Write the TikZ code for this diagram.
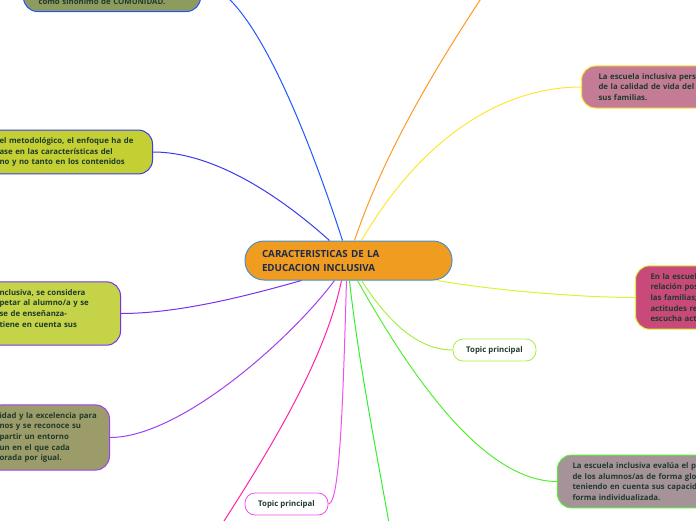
\documentclass[tikz,border=0pt]{standalone}
\usepackage{fontspec}
\setmainfont{Open Sans}
\usetikzlibrary{calc}

\definecolor{txtgreen}{HTML}{1F3B2B}
\definecolor{centrefill}{HTML}{EF9C20}
\definecolor{centreborder}{HTML}{4A8FC8}
\definecolor{centretext}{HTML}{1E2B4A}
\definecolor{olive}{HTML}{8E9B5F}
\definecolor{lightolive}{HTML}{9C9C6B}
\definecolor{lime}{HTML}{C3CF33}
\definecolor{lightlime}{HTML}{C4D348}
\definecolor{mauve}{HTML}{C47B96}
\definecolor{crimson}{HTML}{C94A7A}
\definecolor{greymauve}{HTML}{A6939A}
\definecolor{cblue}{HTML}{2255FF}
\definecolor{cdarkblue}{HTML}{3A3AEE}
\definecolor{cpurple}{HTML}{7B2FF0}
\definecolor{cviolet}{HTML}{A040F0}
\definecolor{cpink}{HTML}{FF22AA}
\definecolor{cmagenta}{HTML}{F050F0}
\definecolor{cgreen}{HTML}{33EE33}
\definecolor{cgreentwo}{HTML}{55EE33}
\definecolor{clightgreen}{HTML}{AAEE44}
\definecolor{clime}{HTML}{D8F533}
\definecolor{cyellow}{HTML}{FFE633}
\definecolor{corange}{HTML}{FF9922}

\begin{document}
\begin{tikzpicture} [
    x=1pt, y=-1pt,
    topic/.style={rectangle, draw, line width=1pt, rounded corners=14pt, align=left, inner xsep=15pt, inner ysep=7.3pt, text=txtgreen, font=\fontsize{7.8}{10.7}\selectfont\bfseries},
    sub_topic/.style={rectangle, draw, fill=white, line width=0.8pt, rounded corners=10pt, minimum width=83pt, minimum height=22pt, text=txtgreen, font=\fontsize{7.8}{10.7}\selectfont\bfseries},
    line/.style={draw, line width=1pt}
]
    \path[use as bounding box, clip] (0,0) rectangle (696,520);

    % Nodes
    \node[topic, fill=centrefill, draw=centreborder, rounded corners=19pt, minimum width=207pt, minimum height=39pt, text width=173pt, inner xsep=17pt, text=centretext, font=\fontsize{9.8}{14}\selectfont\bfseries] (centre) at (348.5,260.5) {CARACTERISTICAS DE LA\\EDUCACION INCLUSIVA};

    \node[topic, fill=olive, draw=cblue, text width=147pt, text height=40pt, text depth=0pt, anchor=south west] (comunidad) at (23,12) {como sinónimo de COMUNIDAD.};
    \node[topic, fill=lime, draw=cdarkblue, text width=140pt, inner xsep=13pt, anchor=east] (metodo) at (153,152) {el metodológico, el enfoque ha de\\ase en las características del\\no y no tanto en los contenidos};
    \node[topic, fill=lightlime, draw=cpurple, text width=108pt, inner xsep=13pt, anchor=east] (respeto) at (121,313.5) {nclusiva, se considera\\petar al alumno/a y se\\se de enseñanza-\\tiene en cuenta sus\\\mbox{}};
    \node[topic, fill=lightolive, draw=cviolet, text width=98pt, inner xsep=12pt, anchor=east] (equidad) at (110,437.5) {idad y la excelencia para\\nos y se reconoce su\\partir un entorno\\un en el que cada\\orada por igual.};

    \node[topic, fill=mauve, draw=cyellow, text width=140pt, inner xsep=17pt, anchor=west] (calidad) at (581,87) {La escuela inclusiva pers\\de la calidad de vida del l\\sus familias.};
    \node[topic, fill=crimson, draw=clime, text width=120pt, anchor=west] (familias) at (635,297.5) {En la escuel\\relación pos\\las familias;\\actitudes re\\escucha act};
    \node[topic, fill=greymauve, draw=cgreentwo, text width=150pt, anchor=west] (evalua) at (557,481.5) {La escuela inclusiva evalúa el p\\de los alumnos/as de forma glo\\teniendo en cuenta sus capacid\\forma individualizada.};

    \node[sub_topic, draw=clightgreen] (topic_right) at (494.5,350) {Topic principal};
    \node[sub_topic, draw=cmagenta] (topic_bottom) at (286.5,504) {Topic principal};

    \coordinate (off_top) at (490,-15);
    \coordinate (off_left) at (215,535);
    \coordinate (off_bottom) at (392,540);

    % Connectors
    \path [line, cblue] ($(centre.north west)+(98,0)$) .. controls (310,140) and (250,-15.6) .. (comunidad.east);
    \path [line, cdarkblue] ($(centre.north west)+(85,0)$) .. controls (290,205) and (220,152) .. (metodo.east);
    \path [line, cyellow] ($(centre.north west)+(117,0)$) .. controls (420,140) and (500,87) .. (calidad.west);
    \path [line, corange] ($(centre.north west)+(110,0)$) .. controls (385,150) and (440,60) .. (off_top);

    \path [line, cpurple] ($(centre.south west)+(57,0)$) .. controls (250,295) and (180,313.5) .. (respeto.east);
    \path [line, cviolet] ($(centre.south west)+(90,0)$) .. controls (290,340) and (180,437.5) .. (equidad.east);
    \path [line, cpink] ($(centre.south west)+(97,0)$) .. controls (325,360) and (270,450) .. (off_left);
    \path [line, cmagenta] ($(centre.south west)+(102,0)$) .. controls (343,400) and (340,504) .. (topic_bottom.east);
    \path [line, cgreen] ($(centre.south west)+(105,0)$) .. controls (358,360) and (378,460) .. (off_bottom);
    \path [line, cgreentwo] ($(centre.south west)+(113,0)$) .. controls (405,365) and (480,481.5) .. (evalua.west);
    \path [line, clightgreen] ($(centre.south west)+(117,0)$) .. controls (390,325) and (420,350) .. (topic_right.west);
    \path [line, clime] ($(centre.south east)+(-15,0)$) .. controls (490,290) and (580,297.5) .. (familias.west);

\end{tikzpicture}
\end{document}
